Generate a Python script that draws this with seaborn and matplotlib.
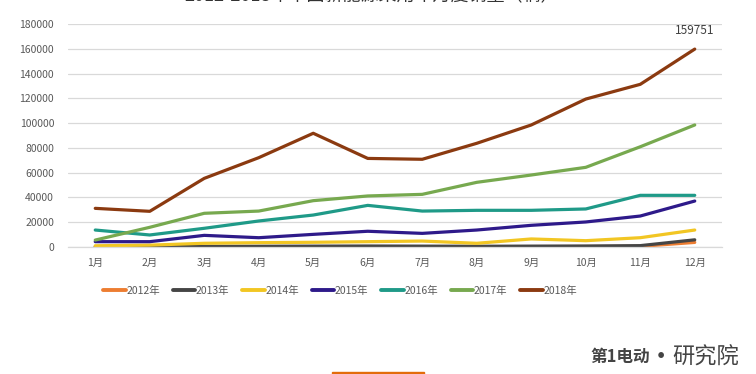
import matplotlib
matplotlib.use("Agg")
import matplotlib.pyplot as plt
import pandas as pd
import seaborn as sns
from matplotlib.patches import Rectangle

# ── Data ──────────────────────────────────────────────────────
months = list(range(1, 13))
month_labels = [f"{m}月" for m in months]

sales_2012 = [100, 150, 200, 250, 300, 300, 300, 300, 350, 400, 500, 3700]
sales_2013 = [300, 350, 500, 600, 700, 800, 700, 600, 700, 800, 1100, 5800]
sales_2014 = [1000, 1500, 3000, 3500, 3800, 4300, 4800, 3000, 6500, 5100, 7500, 13700]
sales_2015 = [4300, 4300, 9400, 7500, 10200, 12700, 11000, 13700, 17500, 20200, 25000, 37100]
sales_2016 = [13700, 9700, 15100, 21000, 25800, 33600, 29000, 29600, 29600, 30700, 41700, 41700]
sales_2017 = [5600, 15900, 27200, 29000, 37400, 41200, 42500, 52200, 58100, 64300, 80900, 98500]
sales_2018 = [31200, 28800, 55400, 72100, 91800, 71500, 70800, 83700, 98500, 119400, 131300, 159751]

years = ["2012年", "2013年", "2014年", "2015年", "2016年", "2017年", "2018年"]
series = [sales_2012, sales_2013, sales_2014, sales_2015, sales_2016, sales_2017, sales_2018]
colors = ["#ED7D31", "#454545", "#F2C623", "#2E1A8A", "#1F9A88", "#77A94F", "#8B3A10"]

df = pd.DataFrame(
    [(y, m, v) for y, vals in zip(years, series) for m, v in zip(months, vals)],
    columns=["year", "month", "sales"],
)

# ── Style ─────────────────────────────────────────────────────
sns.set_theme(style="white")
plt.rcParams["font.family"] = ["Noto Sans CJK SC", "DejaVu Sans"]
tick_color = "#595959"
grid_color = "#D9D9D9"

fig = plt.figure(figsize=(7.56, 3.74), dpi=100)
ax = fig.add_axes([68 / 756, 1 - 247 / 374, 654 / 756, 223 / 374])

sns.lineplot(data=df, x="month", y="sales", hue="year", hue_order=years,
             palette=colors, linewidth=2.3, ax=ax, legend=False)

ax.set_xlim(0.5, 12.5)
ax.set_ylim(0, 180000)
ax.set_yticks(range(0, 180001, 20000))
ax.set_yticklabels([str(v) for v in range(0, 180001, 20000)])
ax.set_xticks(months)
ax.set_xticklabels(month_labels)
ax.tick_params(axis="both", length=0, labelsize=7.5, colors=tick_color)
ax.tick_params(axis="y", pad=10)
ax.tick_params(axis="x", pad=8)
ax.set_xlabel("")
ax.set_ylabel("")
ax.grid(axis="y", color=grid_color, linewidth=0.9)
ax.set_axisbelow(True)
for side in ["top", "right", "left"]:
    ax.spines[side].set_visible(False)
ax.spines["bottom"].set_color(grid_color)
ax.spines["bottom"].set_linewidth(0.9)

# last value label
ax.annotate(f"{sales_2018[-1]}", xy=(12, sales_2018[-1]), xytext=(0, 9),
            textcoords="offset points", ha="center", va="bottom",
            fontsize=8.5, color="#404040")

# ── Legend ────────────────────────────────────────────────────
handles = [plt.Line2D([], [], color=c, linewidth=2.8) for c in colors]
fig.legend(handles, years, loc="center", bbox_to_anchor=(340 / 756, 1 - 291 / 374),
           ncol=7, frameon=False, fontsize=7.5, handlelength=2.2,
           handletextpad=0.05, columnspacing=1.2, labelcolor=tick_color)

# ── Title (cut off at the top edge in the reference) ─────────
fig.text(0.492, 1 - 1 / 374, "2012-2018年中国新能源乘用车月度销量（辆）",
         ha="center", va="baseline", fontsize=13, color="#333333")

# ── Watermark / footer bits ──────────────────────────────────
fig.text(590 / 756, 1 - 357 / 374, "第1电动", ha="left", va="center",
         fontsize=12, color="#444444", fontweight="bold")
fig.text(661 / 756, 1 - 357 / 374, "·", ha="center", va="center",
         fontsize=16, color="#444444", fontweight="bold")
fig.text(672 / 756, 1 - 357 / 374, "研究院", ha="left", va="center",
         fontsize=16, color="#444444")
fig.patches.append(Rectangle((332 / 756, 0), 92 / 756, 2.5 / 374,
                             transform=fig.transFigure, color="#E36C0A"))

fig.savefig("out.png", dpi=100)
